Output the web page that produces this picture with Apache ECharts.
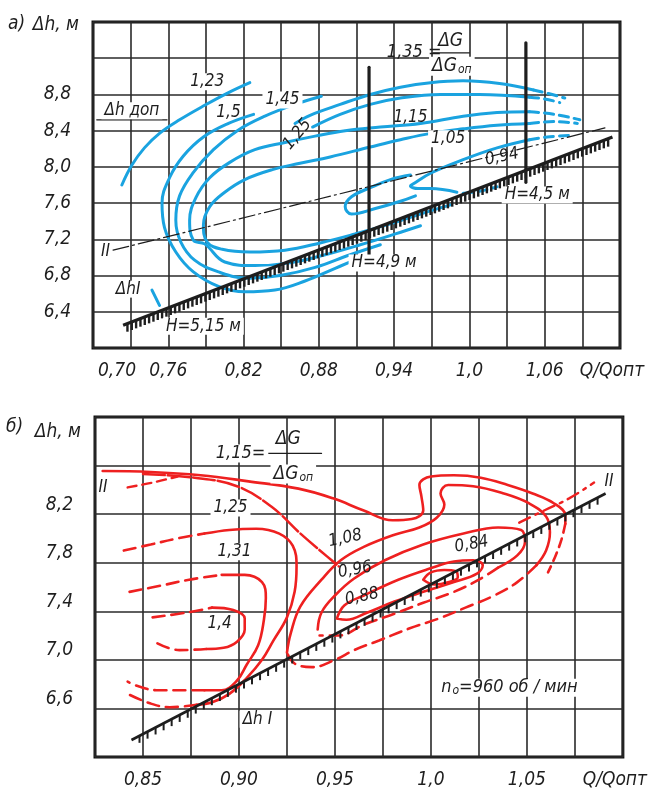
<!DOCTYPE html>
<html><head><meta charset="utf-8">
<script src="https://cdn.jsdelivr.net/npm/echarts@6/dist/echarts.min.js"></script>
<style>html,body{margin:0;padding:0;background:#fff}#c{width:648px;height:794px}</style>
</head><body><div id="c"></div>
<script>
// ---------- axes / ticks ----------
const xTicksA = [0.70, 0.76, 0.82, 0.88, 0.94, 1.00, 1.06];
const xLabelsA = ['0,70', '0,76', '0,82', '0,88', '0,94', '1,0', '1,06'];
const yTicksA = [6.4, 6.8, 7.2, 7.6, 8.0, 8.4, 8.8];
const yLabelsA = ['6,4', '6,8', '7,2', '7,6', '8,0', '8,4', '8,8'];
const xTicksB = [0.85, 0.90, 0.95, 1.00, 1.05];
const xLabelsB = ['0,85', '0,90', '0,95', '1,0', '1,05'];
const yTicksB = [6.6, 7.0, 7.4, 7.8, 8.2];
const yLabelsB = ['6,6', '7,0', '7,4', '7,8', '8,2'];

// ---------- panel a) : ΔG/ΔGоп contours (blue) ----------
const a123 = [[0.723,7.80],[0.731,8.02],[0.741,8.21],[0.753,8.37],[0.769,8.52],[0.789,8.68],[0.808,8.82],[0.825,8.93]];
const a150 = [[0.828,8.58],[0.808,8.48],[0.788,8.33],[0.772,8.12],[0.761,7.88],[0.755,7.60],[0.757,7.33],[0.766,7.06],[0.780,6.84],[0.800,6.68],[0.821,6.62],[0.845,6.64],[0.869,6.74],[0.893,6.88],[0.905,6.95]];
const a145 = [[0.882,8.78],[0.861,8.69],[0.837,8.56],[0.815,8.40],[0.796,8.19],[0.780,7.94],[0.769,7.68],[0.766,7.41],[0.770,7.17],[0.781,6.97],[0.800,6.84],[0.824,6.77],[0.849,6.80],[0.877,6.89],[0.905,7.03],[0.929,7.14]];
const a135 = [[0.861,8.48],[0.873,8.57],[0.897,8.69],[0.921,8.80],[0.945,8.88],[0.969,8.93],[0.995,8.95],[1.024,8.92],[1.051,8.85]];
const a135d = [[1.051,8.85],[1.063,8.81],[1.076,8.76]];
const a125 = [[0.875,8.44],[0.897,8.58],[0.921,8.69],[0.945,8.76],[0.977,8.80],[1.008,8.80],[1.048,8.77]];
const a125d = [[1.048,8.77],[1.060,8.75],[1.072,8.71]];
const a115 = [[1.048,8.61],[1.022,8.60],[0.995,8.56],[0.961,8.48],[0.929,8.44],[0.901,8.40],[0.877,8.34],[0.853,8.27],[0.829,8.19],[0.809,8.05],[0.793,7.88],[0.782,7.66],[0.777,7.41],[0.780,7.19],[0.789,7.15],[0.805,6.95],[0.829,6.91],[0.857,6.94],[0.885,7.03],[0.913,7.14],[0.941,7.26],[0.961,7.35]];
const a115d = [[1.048,8.61],[1.068,8.58],[1.088,8.52]];
const a105 = [[1.048,8.48],[1.022,8.46],[0.995,8.42],[0.969,8.37],[0.945,8.30],[0.921,8.22],[0.889,8.11],[0.865,8.04],[0.843,7.97],[0.821,7.86],[0.805,7.72],[0.793,7.56],[0.788,7.36],[0.791,7.17],[0.803,7.09],[0.825,7.06],[0.853,7.08],[0.881,7.16],[0.909,7.26],[0.937,7.37],[0.961,7.48],[0.985,7.58]];
const a105d = [[1.048,8.48],[1.068,8.50],[1.086,8.48]];
const aLoop = [[0.953,7.91],[0.937,7.86],[0.921,7.77],[0.906,7.67],[0.901,7.56],[0.906,7.48],[0.925,7.54],[0.945,7.62],[0.957,7.68]];
const a094 = [[1.048,8.30],[1.022,8.21],[0.995,8.08],[0.969,7.93],[0.955,7.81],[0.953,7.79],[0.959,7.76],[0.969,7.76],[0.990,7.72]];
const a094d1 = [[1.048,8.30],[1.062,8.33],[1.083,8.35]];
const a094d2 = [[0.995,7.71],[1.008,7.73],[1.022,7.78]];
const aStroke = [[0.747,6.64],[0.753,6.47]];
// boundary and reference lines, panel a)
const aHatchI = [[0.724, 6.25, 1.114, 8.33]];
const aLineII = [[0.716,7.08],[1.108,8.43]];
const aH49 = [[0.920,7.03],[0.920,9.10]];
const aH45 = [[1.045,7.83],[1.045,9.37]];
const aDop = [[0.703,8.52],[0.759,8.52]];
const aBar = [[0.971,9.26],[1.000,9.26]];
const notesA = [
  [0.791, 8.94, '1,23'], [0.808, 8.60, '1,5'], [0.851, 8.74, '1,45'], [0.863, 8.36, '1,25'],
  [0.953, 8.55, '1,15'], [0.983, 8.31, '1,05'], [1.026, 8.11, '0,94'],
  [0.956, 9.27, '1,35 ='], [0.985, 9.39, 'ΔG'], [0.986, 9.11, 'ΔGоп'],
  [0.932, 6.94, 'H=4,9 м'], [1.054, 7.69, 'H=4,5 м'], [0.788, 6.24, 'H=5,15 м'],
  [0.731, 8.62, 'Δh доп'], [0.710, 7.06, 'II'], [0.728, 6.65, 'ΔhI']
];

// ---------- panel б) : contours (red) ----------
const b115 = [[0.829,8.555],[0.854,8.547],[0.880,8.52],[0.905,8.47],[0.931,8.41],[0.949,8.33],[0.965,8.23],[0.980,8.15],[0.990,8.16],[0.996,8.23],[0.995,8.35],[0.994,8.44],[1.000,8.51],[1.012,8.52],[1.026,8.50],[1.040,8.44],[1.053,8.37],[1.064,8.29],[1.070,8.19],[1.070,8.12]];
const b115d = [[1.070,8.12],[1.068,7.99],[1.065,7.86],[1.061,7.72]];
const bII1 = [[0.850,8.53],[0.877,8.50],[0.899,8.43],[0.917,8.26],[0.932,8.04],[0.946,7.85],[0.952,7.77]];
const bII2 = [[1.046,8.13],[1.059,8.23],[1.072,8.33],[1.085,8.46]];
const bStub = [[0.842,8.42],[0.855,8.46],[0.868,8.51]];
const b125d1 = [[0.840,7.90],[0.854,7.95],[0.868,8.00],[0.882,8.04]];
const b125 = [[0.882,8.04],[0.895,8.07],[0.909,8.08],[0.921,8.04],[0.928,7.94],[0.930,7.77],[0.929,7.56],[0.925,7.35],[0.918,7.16],[0.912,7.00],[0.904,6.85],[0.895,6.72],[0.886,6.65],[0.878,6.63]];
const b125d2 = [[0.878,6.63],[0.864,6.61],[0.854,6.64],[0.842,6.72]];
const b131d1 = [[0.843,7.56],[0.859,7.61],[0.874,7.66],[0.891,7.70]];
const b131 = [[0.891,7.70],[0.903,7.70],[0.912,7.64],[0.914,7.51],[0.913,7.33],[0.910,7.12],[0.904,6.96],[0.899,6.83],[0.891,6.75],[0.882,6.75]];
const b131d2 = [[0.882,6.75],[0.869,6.75],[0.857,6.75],[0.848,6.78],[0.842,6.82]];
const b140d1 = [[0.855,7.35],[0.873,7.39],[0.886,7.43]];
const b140 = [[0.886,7.43],[0.897,7.41],[0.903,7.34],[0.903,7.25],[0.899,7.15],[0.892,7.10],[0.883,7.09]];
const b140d2 = [[0.883,7.09],[0.869,7.08],[0.857,7.14]];
const b108 = [[0.925,7.06],[0.927,7.22],[0.932,7.44],[0.943,7.66],[0.953,7.82],[0.965,7.93],[0.981,8.03],[0.994,8.09],[1.003,8.17],[1.007,8.28],[1.005,8.37],[1.009,8.44],[1.022,8.43],[1.038,8.37],[1.051,8.29],[1.060,8.18],[1.062,8.05],[1.060,7.90],[1.055,7.78]];
const b108d = [[1.055,7.78],[1.045,7.64],[1.033,7.53],[1.018,7.43],[1.004,7.34],[0.989,7.26],[0.973,7.16],[0.960,7.08],[0.950,7.00],[0.938,6.94],[0.929,6.97],[0.925,7.06]];
const b096 = [[0.941,7.25],[0.943,7.39],[0.950,7.53],[0.960,7.67],[0.976,7.82],[0.996,7.95],[1.017,8.04],[1.035,8.09],[1.047,8.07],[1.049,7.97],[1.045,7.86],[1.035,7.76]];
const b096d = [[1.035,7.76],[1.025,7.66],[1.012,7.56],[0.996,7.47],[0.981,7.38],[0.965,7.29],[0.952,7.20],[0.942,7.20]];
const b088 = [[0.951,7.34],[0.955,7.45],[0.965,7.53],[0.983,7.66],[0.999,7.75],[1.012,7.81],[1.022,7.82],[1.027,7.78],[1.024,7.71],[1.012,7.64],[0.996,7.56],[0.981,7.48],[0.967,7.39],[0.956,7.33],[0.951,7.34]];
const b084 = [[0.996,7.66],[1.000,7.72],[1.007,7.74],[1.013,7.73],[1.014,7.68],[1.009,7.64],[1.002,7.62],[0.996,7.66]];
const bHatchI = [[0.844, 6.34, 1.091, 8.37]];
const bBar = [[0.915,8.70],[0.943,8.70]];
const notesB = [
  [0.9008, 8.70, '1,15='], [0.9257, 8.82, 'ΔG'], [0.9283, 8.53, 'ΔGоп'],
  [0.8956, 8.25, '1,25'], [0.8977, 7.89, '1,31'], [0.8899, 7.30, '1,4'],
  [0.9553, 8.00, '1,08'], [0.9605, 7.74, '0,96'], [0.9641, 7.52, '0,88'], [1.0212, 7.95, '0,84'],
  [0.9096, 6.51, 'Δh I'], [1.0409, 6.77, 'n₀=960 об / мин'], [0.8292, 8.42, 'II'], [1.0928, 8.47, 'II']
];

// ---------- styling (kept separate from data) ----------
const FONT = "'Liberation Sans Narrow','DejaVu Sans Condensed','Open Sans',sans-serif";
const INK = '#1e1e1e';
const BLUE = '#1aa3e0';
const RED = '#ee2020';
const styleA = [
  {r:0,fs:17,bg:true},{r:0,fs:17},{r:0,fs:17,bg:true},{r:50,fs:17},
  {r:0,fs:17},{r:0,fs:17,bg:true},{r:12,fs:17},
  {r:0,fs:18},{r:0,fs:19},{r:0,fs:19,bg:true},
  {r:0,fs:17,bg:true},{r:0,fs:17,bg:true},{r:0,fs:17,bg:true},
  {r:0,fs:17,bg:true},{r:0,fs:17},{r:0,fs:17,bg:true}
];
const styleB = [
  {r:0,fs:18,bg:true},{r:0,fs:19},{r:0,fs:19,bg:true},
  {r:0,fs:17,bg:true},{r:0,fs:17,bg:true},{r:0,fs:17},
  {r:12,fs:17},{r:10,fs:17},{r:12,fs:17},{r:10,fs:17},
  {r:0,fs:17,bg:true},{r:0,fs:18,bg:true},{r:0,fs:17},{r:0,fs:17}
];

function labelOf(ticks, labels, v, shiftFirst) {
  for (let i = 0; i < ticks.length; i++) if (Math.abs(ticks[i] - v) < 1e-6) {
    return (shiftFirst && i === 0) ? '{m|' + labels[i] + '}' : labels[i];
  }
  return '';
}
function richText(t) {
  if (t === 'ΔGоп') return '{g|ΔG}{s|оп}';
  if (t.indexOf('n₀') === 0) return '{g|n}{s|о}{g|' + t.slice(2) + '}';
  return t;
}
const tickFont = {fontSize: 19, fontFamily: FONT, fontStyle: 'italic', color: INK};

function dataX(gi, min, max, ticks, labels, shiftFirst) {
  return {gridIndex: gi, type: 'value', min, max,
    axisLine: {show: false}, axisTick: {show: false}, splitLine: {show: false},
    axisLabel: Object.assign({customValues: ticks, formatter: v => labelOf(ticks, labels, v, shiftFirst), margin: 14,
      rich: {m: {fontSize: 19, fontFamily: FONT, fontStyle: 'italic', color: INK, padding: [0, 0, 0, 48]}}}, tickFont),
    name: 'Q/Qопт', nameLocation: 'end', nameGap: -8,
    nameTextStyle: {fontSize: 19, fontFamily: FONT, fontStyle: 'italic', color: INK, align: 'center', verticalAlign: 'top', padding: [14, 0, 0, 0]}};
}
function dataY(gi, min, max, ticks, labels, nameGap, va) {
  return {gridIndex: gi, type: 'value', min, max,
    axisLine: {show: false}, axisTick: {show: false}, splitLine: {show: false},
    axisLabel: Object.assign({customValues: ticks, formatter: v => labelOf(ticks, labels, v, false), margin: 22, verticalAlign: va}, tickFont),
    name: 'Δh, м', nameLocation: 'end', nameGap: nameGap,
    nameTextStyle: {fontSize: 19, fontFamily: FONT, fontStyle: 'italic', color: INK, align: 'right', verticalAlign: 'middle', padding: [0, 14, 0, 0]}};
}
function cellAxis(gi, n) {
  return {gridIndex: gi, type: 'value', min: 0, max: n, interval: 1,
    axisLine: {show: false}, axisTick: {show: false}, axisLabel: {show: false},
    splitLine: {show: true, lineStyle: {color: '#2a2a2a', width: 1.6}}};
}
function ln(data, gi, color, width, type, smooth) {
  return {type: 'line', xAxisIndex: gi * 2, yAxisIndex: gi * 2, data, symbol: 'none',
    smooth: smooth === undefined ? 0.4 : smooth, silent: true, z: 3,
    lineStyle: {color, width, type: type || 'solid', cap: 'round'}};
}
function hatch(data, gi, spacing, len, lw, tw) {
  return {type: 'custom', xAxisIndex: gi * 2, yAxisIndex: gi * 2, data, encode: {x: [0, 2], y: [1, 3]}, silent: true, z: 4,
    renderItem: (p, api) => {
      const a = api.coord([api.value(0), api.value(1)]);
      const b = api.coord([api.value(2), api.value(3)]);
      const dx = b[0] - a[0], dy = b[1] - a[1];
      const n = Math.floor(Math.hypot(dx, dy) / spacing);
      const ch = [{type: 'line', shape: {x1: a[0], y1: a[1], x2: b[0], y2: b[1]}, style: {stroke: INK, lineWidth: lw}}];
      for (let i = 1; i < n; i++) {
        const x = a[0] + dx * i / n, y = a[1] + dy * i / n;
        ch.push({type: 'line', shape: {x1: x, y1: y, x2: x, y2: y + len}, style: {stroke: INK, lineWidth: tw}});
      }
      return {type: 'group', children: ch};
    }};
}
function notes(list, styles, gi) {
  return {type: 'custom', xAxisIndex: gi * 2, yAxisIndex: gi * 2, data: list.map(n => [n[0], n[1]]),
    encode: {x: 0, y: 1}, silent: true, z: 10, clip: false,
    renderItem: (p, api) => {
      const i = p.dataIndex, st = styles[i];
      const c = api.coord([api.value(0), api.value(1)]);
      return {type: 'text', x: c[0], y: c[1], rotation: st.r * Math.PI / 180,
        style: {text: richText(list[i][2]), fill: INK, fontSize: st.fs, fontFamily: FONT, fontStyle: 'italic',
          align: 'center', verticalAlign: 'middle',
          backgroundColor: st.bg ? '#fff' : 'transparent', padding: st.bg ? [0, 3] : 0,
          rich: {g: {fontSize: st.fs, fontFamily: FONT, fontStyle: 'italic', fill: INK},
                 s: {fontSize: 12, fontFamily: FONT, fontStyle: 'italic', fill: INK, verticalAlign: 'bottom', padding: [6, 0, 0, 1]}}}};
    }};
}

const DASH = [9, 6];
const series = [
  // panel a)
  ln(a123, 0, BLUE, 3), ln(a150, 0, BLUE, 3), ln(a145, 0, BLUE, 3),
  ln(a135, 0, BLUE, 3), ln(a135d, 0, BLUE, 3, DASH),
  ln(a125, 0, BLUE, 3), ln(a125d, 0, BLUE, 3, DASH),
  ln(a115, 0, BLUE, 3), ln(a115d, 0, BLUE, 3, DASH),
  ln(a105, 0, BLUE, 3), ln(a105d, 0, BLUE, 3, DASH),
  ln(aLoop, 0, BLUE, 3), ln(a094, 0, BLUE, 3), ln(a094d1, 0, BLUE, 3, DASH), ln(a094d2, 0, BLUE, 3, DASH),
  ln(aStroke, 0, BLUE, 3, 'solid', false),
  ln(aLineII, 0, INK, 1.2, [16, 4, 2, 4], false),
  ln(aH49, 0, INK, 3.2, 'solid', false), ln(aH45, 0, INK, 3.2, 'solid', false),
  ln(aDop, 0, INK, 1.3, 'solid', false), ln(aBar, 0, INK, 1.3, 'solid', false),
  hatch(aHatchI, 0, 4.6, 8, 3.2, 2.4),
  notes(notesA, styleA, 0),
  // panel б)
  ln(b115, 1, RED, 2.6), ln(b115d, 1, RED, 2.6, DASH),
  ln(bII1, 1, RED, 2.5, [22, 3]), ln(bII2, 1, RED, 2.4, [12, 6, 3, 6]),
  ln(bStub, 1, RED, 2.4, DASH),
  ln(b125d1, 1, RED, 2.6, [12, 7]), ln(b125, 1, RED, 2.6), ln(b125d2, 1, RED, 2.6, [12, 7]),
  ln(b131d1, 1, RED, 2.6, [12, 7]), ln(b131, 1, RED, 2.6), ln(b131d2, 1, RED, 2.6, [12, 7]),
  ln(b140d1, 1, RED, 2.6, [12, 7]), ln(b140, 1, RED, 2.6), ln(b140d2, 1, RED, 2.6, [12, 7]),
  ln(b108, 1, RED, 2.6), ln(b108d, 1, RED, 2.6, [12, 7]),
  ln(b096, 1, RED, 2.6), ln(b096d, 1, RED, 2.6, [12, 7]),
  ln(b088, 1, RED, 2.6), ln(b084, 1, RED, 2.6),
  ln(bBar, 1, INK, 1.3, 'solid', false),
  hatch(bHatchI, 1, 9, 7, 2.6, 2),
  notes(notesB, styleB, 1)
];

const chart = echarts.init(document.getElementById('c'), null, {renderer: 'canvas'});
chart.setOption({
  animation: false,
  backgroundColor: '#fff',
  grid: [
    {left: 93, top: 22, width: 527, height: 326, show: true, borderColor: '#111', borderWidth: 3, backgroundColor: 'transparent'},
    {left: 95, top: 417, width: 530, height: 340, show: true, borderColor: '#111', borderWidth: 3, backgroundColor: 'transparent'}
  ],
  xAxis: [
    dataX(0, 0.70, 1.12, xTicksA, xLabelsA, true), cellAxis(0, 14),
    dataX(1, 0.825, 1.10, xTicksB, xLabelsB, false), cellAxis(1, 11)
  ],
  yAxis: [
    dataY(0, 6.0, 9.6, yTicksA, yLabelsA, -3, 'middle'), cellAxis(0, 9),
    dataY(1, 6.2, 9.0, yTicksB, yLabelsB, -15, 'bottom'), cellAxis(1, 7)
  ],
  graphic: [
    {type: 'text', left: 8, top: 15, style: {text: 'а)', fontSize: 19, fontFamily: FONT, fontStyle: 'italic', fill: INK}},
    {type: 'text', left: 6, top: 418, style: {text: 'б)', fontSize: 19, fontFamily: FONT, fontStyle: 'italic', fill: INK}}
  ],
  series
});
</script>
</body></html>
